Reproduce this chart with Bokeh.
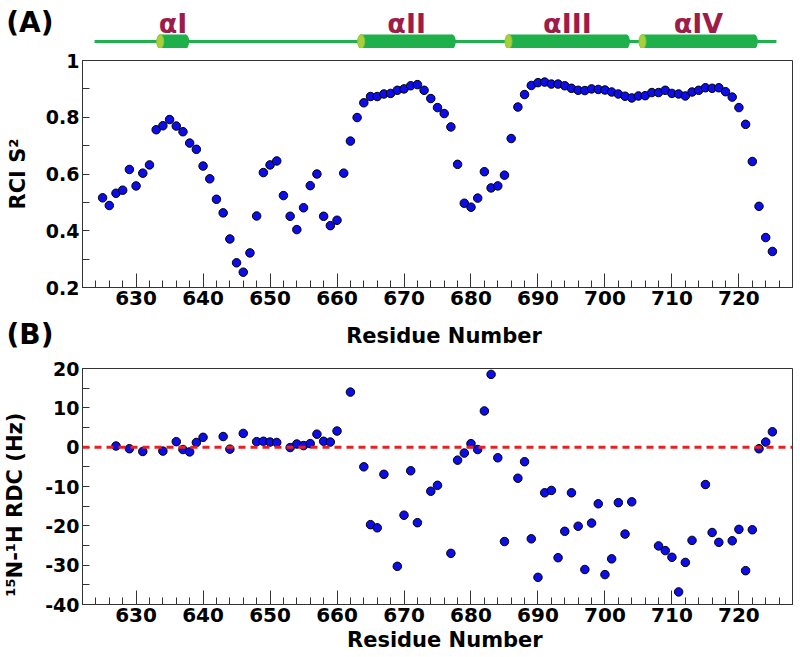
from bokeh.plotting import figure
from bokeh.models import Range1d, FixedTicker, SingleIntervalTicker, Span
from bokeh.layouts import column
from bokeh.core.properties import value
from bokeh.embed import file_html
from bokeh.resources import INLINE

FONT = "DejaVu Sans"
GREEN = "#1eb04b"
CAP_GREEN = "#a9cf3a"
CRIMSON = "#9d1c4a"
BLUE = "#0d0dea"
EDGE = "#333333"
RED = "#e8201f"
NBSP = "\u00a0"

# ---------------- data ----------------
rci_residue = list(range(625, 726))
rci_s2 = [
    0.516, 0.489, 0.532, 0.543, 0.616, 0.558, 0.603, 0.632, 0.756, 0.770,  # 625-634
    0.792, 0.769, 0.749, 0.709, 0.687, 0.628, 0.583, 0.511, 0.463, 0.371,  # 635-644
    0.287, 0.254, 0.322, 0.452, 0.605, 0.632, 0.646, 0.524, 0.451, 0.404,  # 645-654
    0.481, 0.559, 0.600, 0.451, 0.418, 0.437, 0.603, 0.716, 0.799, 0.851,  # 655-664
    0.873, 0.873, 0.882, 0.884, 0.895, 0.900, 0.911, 0.915, 0.895, 0.866,  # 665-674
    0.834, 0.813, 0.766, 0.634, 0.497, 0.483, 0.515, 0.608, 0.551, 0.558,  # 675-684
    0.596, 0.725, 0.836, 0.880, 0.912, 0.922, 0.924, 0.917, 0.917, 0.911,  # 685-694
    0.902, 0.895, 0.894, 0.900, 0.898, 0.896, 0.889, 0.882, 0.874, 0.868,  # 695-704
    0.875, 0.876, 0.887, 0.887, 0.895, 0.884, 0.882, 0.875, 0.889, 0.895,  # 705-714
    0.904, 0.902, 0.904, 0.890, 0.871, 0.834, 0.775, 0.644, 0.486, 0.376,  # 715-724
    0.327,                                                                 # 725
]

rdc_residue = [
    627, 629, 631, 634, 636, 637, 638, 639, 640, 643, 644, 646, 648, 649, 650,
    651, 653, 654, 655, 656, 657, 658, 659, 660, 662, 664, 665, 666, 667, 669,
    670, 671, 672, 674, 675, 677, 678, 679, 680, 681, 682, 683, 684, 685, 687,
    688, 689, 690, 691, 692, 693, 694, 695, 696, 697, 698, 699, 700, 701, 702,
    703, 704, 708, 709, 710, 711, 712, 713, 715, 716, 717, 719, 720, 721, 722,
    723, 724, 725,
]
rdc_hz = [
    0.3, -0.4, -1.1, -1.0, 1.4, -0.6, -1.2, 1.2, 2.5, 2.7, -0.5, 3.5, 1.4, 1.5, 1.3,
    1.2, -0.1, 0.8, 0.4, 0.9, 3.3, 1.5, 1.3, 4.1, 14.0, -5.0, -19.7, -20.5, -6.9, -30.3,
    -17.3, -6.0, -19.2, -11.2, -9.7, -27.0, -3.3, -1.5, 0.9, -0.6, 9.2, 18.5, -2.7, -24.0, -7.9,
    -3.7, -23.3, -33.1, -11.6, -11.0, -28.1, -21.4, -11.6, -20.1, -31.1, -19.3, -14.4, -32.4, -28.4, -14.1,
    -22.1, -13.9, -25.1, -26.3, -28.0, -36.8, -29.3, -23.7, -9.5, -21.7, -24.2, -23.8, -20.9, -31.4, -21.0,
    -0.4, 1.3, 3.9,
]

helix_names = ["αI", "αII", "αIII", "αIV"]
helix_start = [633.6, 663.6, 685.6, 705.6]
helix_end = [637.4, 677.2, 703.2, 722.3]
chain_start = [623.8]
chain_end = [725.6]

x_lo, x_hi = 622, 728
rci_major = [0.2, 0.4, 0.6, 0.8, 1.0]
rci_minor = [0.3, 0.5, 0.7, 0.9]
rci_labels = {1: "1"}
rdc_major = [-40, -30, -20, -10, 0, 10, 20]
rdc_minor = [-35, -25, -15, -5, 5, 15]
rdc_labels = {t: str(t) for t in rdc_major}   # plain hyphen for negatives

# ---------------- geometry ----------------
W = 800
FRAME_L, FRAME_R = 82, 792
px_per_res = (FRAME_R - FRAME_L) / (x_hi - x_lo)
HEAD_H, A_H, MID_H = 48, 266, 38
B_H = 657 - HEAD_H - A_H - MID_H

shared_x = Range1d(x_lo, x_hi)


def strip(p, panel_tag, tag_y):
    """A frameless strip whose only axis text is a panel tag like (A)."""
    p.xaxis.visible = False
    p.grid.visible = False
    p.outline_line_color = None
    ya = p.yaxis[0]
    ya.ticker = FixedTicker(ticks=[tag_y], minor_ticks=[])
    ya.major_label_overrides = {tag_y: panel_tag}
    ya.axis_line_color = None
    ya.major_tick_line_color = None
    ya.minor_tick_line_color = None
    ya.major_tick_out = 0
    ya.major_tick_in = 0
    ya.major_label_standoff = 29
    ya.major_label_text_font = FONT
    ya.major_label_text_font_style = "bold"
    ya.major_label_text_font_size = "28px"
    ya.major_label_text_color = "black"


def style_axes(p):
    p.xgrid.visible = False
    p.ygrid.visible = False
    p.outline_line_color = EDGE
    p.outline_line_width = 1
    for ax in (p.xaxis[0], p.yaxis[0]):
        ax.major_tick_out = 0
        ax.minor_tick_out = 0
        ax.major_tick_line_color = EDGE
        ax.minor_tick_line_color = EDGE
        ax.axis_line_color = EDGE
        ax.major_label_text_font = FONT
        ax.major_label_text_font_style = "bold"
        ax.major_label_text_color = "black"
        ax.axis_label_text_font = FONT
        ax.axis_label_text_font_style = "bold"
        ax.axis_label_text_font_size = "21px"
        ax.axis_label_text_color = "black"
        ax.major_label_standoff = 3
        ax.axis_label_standoff = 3
    xa = p.xaxis[0]
    xa.ticker = SingleIntervalTicker(interval=10, num_minor_ticks=5)
    xa.major_tick_in = 14
    xa.minor_tick_in = 7
    xa.major_label_text_font_size = "20px"
    ya = p.yaxis[0]
    ya.major_tick_in = 7
    ya.minor_tick_in = 7
    ya.major_label_text_font_size = "19px"


# ---------------- header: (A) + helix track ----------------
ph = figure(width=W, height=HEAD_H, x_range=shared_x, y_range=Range1d(HEAD_H, 0),
            output_backend="svg", toolbar_location=None,
            min_border_left=FRAME_L, min_border_right=W - FRAME_R,
            min_border_top=0, min_border_bottom=0)
strip(ph, "(A)", 21.5)
track_y = 41
ph.segment(x0=chain_start, y0=[track_y], x1=chain_end, y1=[track_y],
           line_color=GREEN, line_width=3)
mid = [(s + e) / 2 for s, e in zip(helix_start, helix_end)]
wid = [e - s for s, e in zip(helix_start, helix_end)]
ph.rect(x=mid, y=track_y, width=wid, height=14, height_units="screen",
        fill_color=GREEN, line_color=None)
ph.ellipse(x=helix_end, y=track_y, width=7, height=14, width_units="screen",
           height_units="screen", fill_color=GREEN, line_color=None)
ph.ellipse(x=helix_start, y=track_y, width=7, height=14, width_units="screen",
           height_units="screen", fill_color=CAP_GREEN, line_color="#8cc63f", line_width=1)
ph.text(x=mid, y=23, text=helix_names, text_font=value(FONT), text_font_style="bold",
        text_font_size="27px", text_color=CRIMSON, text_align="center",
        text_baseline="middle")

# ---------------- panel A ----------------
pa = figure(width=W, height=A_H, x_range=shared_x,
            y_range=Range1d(rci_major[0], rci_major[-1]),
            output_backend="svg", toolbar_location=None,
            min_border_left=FRAME_L, min_border_right=W - FRAME_R,
            min_border_top=12, min_border_bottom=27)
style_axes(pa)
pa.yaxis[0].ticker = FixedTicker(ticks=rci_major, minor_ticks=rci_minor)
pa.yaxis[0].major_label_overrides = rci_labels
pa.yaxis[0].axis_label = "RCI S²"
pa.yaxis[0].axis_label_standoff = 13
pa.scatter(rci_residue, rci_s2, size=8.5, fill_color=BLUE, line_color="black", line_width=1)

# ---------------- middle strip: x-title of A and (B) ----------------
pm = figure(width=W, height=MID_H, x_range=shared_x, y_range=Range1d(MID_H, 0),
            output_backend="svg", toolbar_location=None,
            min_border_left=FRAME_L, min_border_right=W - FRAME_R,
            min_border_top=0, min_border_bottom=0)
strip(pm, "(B)", 23.5)
pm.text(x=[x_lo + (443.5 - FRAME_L) / px_per_res], y=[21], text=["Residue Number"],
        text_font=value(FONT), text_font_style="bold", text_font_size="21px",
        text_color="black", text_align="center", text_baseline="alphabetic")

# ---------------- panel B ----------------
pb = figure(width=W, height=B_H, x_range=shared_x,
            y_range=Range1d(rdc_major[0], rdc_major[-1]),
            output_backend="svg", toolbar_location=None,
            min_border_left=FRAME_L, min_border_right=W - FRAME_R,
            min_border_top=16, min_border_bottom=53)
style_axes(pb)
pb.yaxis[0].ticker = FixedTicker(ticks=rdc_major, minor_ticks=rdc_minor)
pb.yaxis[0].major_label_overrides = rdc_labels
pb.yaxis[0].axis_label = "¹⁵N-¹H RDC (Hz)" + NBSP * 5
pb.yaxis[0].axis_label_standoff = 15
pb.xaxis[0].axis_label = NBSP * 2 + "Residue Number"

pb.add_layout(Span(location=0, dimension="width", line_color=RED, line_width=3,
                   line_dash="7 5"))
pb.scatter(rdc_residue, rdc_hz, size=8.5, fill_color=BLUE, line_color="black", line_width=1)

layout = column(ph, pa, pm, pb)
open("out.html", "w").write(file_html(layout, INLINE))
